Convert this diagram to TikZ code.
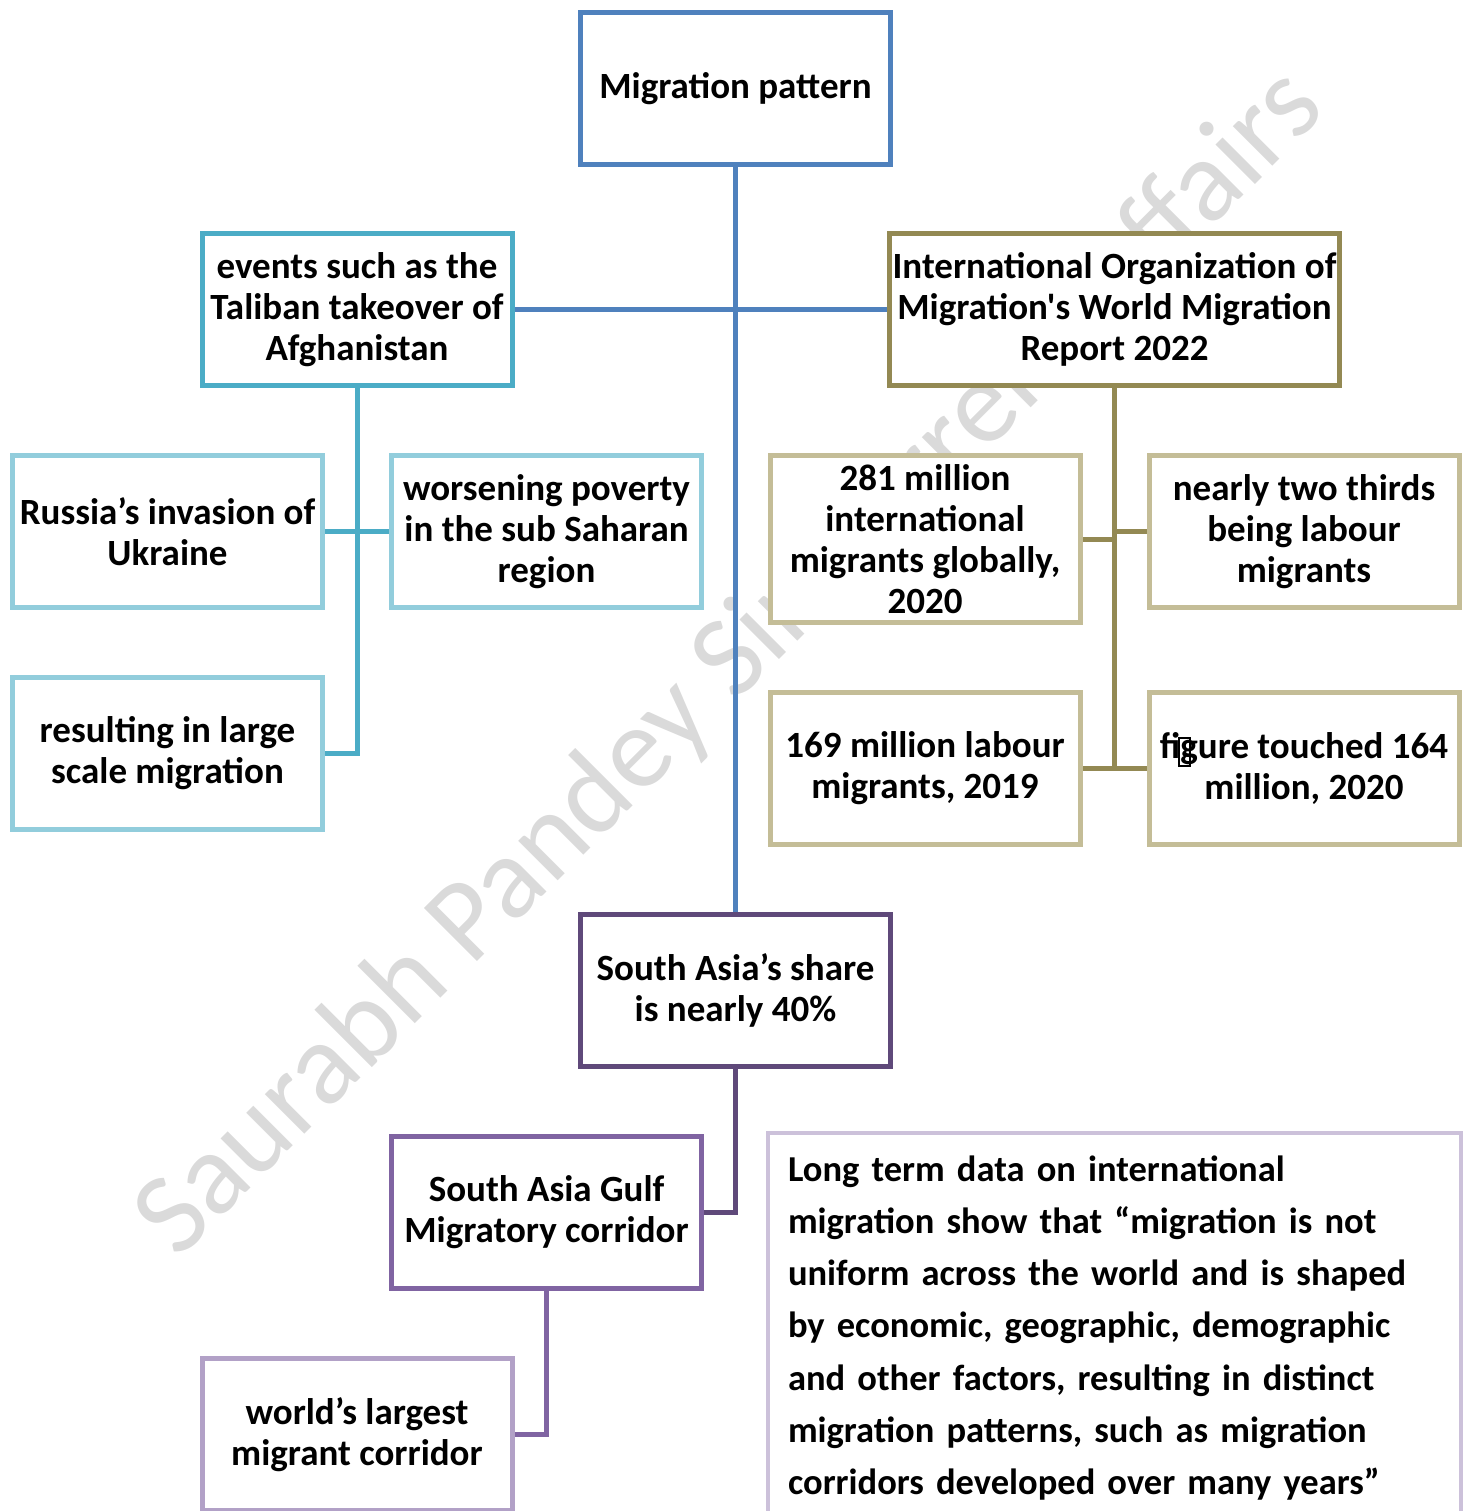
\documentclass[tikz,border=0pt]{standalone}
\usepackage{fontspec}
\setmainfont{Carlito}[Ligatures=TeXOff]
\definecolor{pattblue}{HTML}{4F81BD}
\definecolor{teal}{HTML}{4BACC6}
\definecolor{ltblue}{HTML}{92CDDC}
\definecolor{olive}{HTML}{938953}
\definecolor{tan}{HTML}{C4BD97}
\definecolor{dkpurple}{HTML}{5F497A}
\definecolor{purple}{HTML}{8064A2}
\definecolor{lilac}{HTML}{B2A1C7}
\definecolor{palelilac}{HTML}{CCC1DA}
\definecolor{wmgray}{HTML}{DADADA}
\newcommand{\missingglyph}{\rlap{\hspace{-2pt}\raisebox{-6pt}{\setlength\fboxsep{0pt}\setlength\fboxrule{2pt}\fbox{\rule{0pt}{26pt}\hspace{9pt}}}}}
\newcommand{\quotefont}{\bfseries\fontsize{36.5}{52.3}\selectfont\spaceskip=0.165em plus 0.05em\relax}
\begin{document}
\begin{tikzpicture}[x=1pt,y=-1pt,
  box/.style={draw,fill=white,line width=5pt,minimum width=310pt,minimum height=152pt,
    align=center,inner sep=2pt,font=\bfseries\fontsize{37}{41}\selectfont},
  link/.style={line width=5pt},
  wm/.style={text=wmgray,font=\fontsize{117}{117}\selectfont,rotate=45}]
  \useasboundingbox (0,0) rectangle (1470,1511);
  % watermark sits behind the chart
  \node[wm] (mark) at (731,664) {Saurabh Pandey Sir Current Affairs};

  \node[box,draw=pattblue] (pattern) at (735.5,89) {Migration pattern};
  \node[box,draw=teal] (events) at (357,309.5) {events such as the\\Taliban takeover of\\Afghanistan};
  \node[box,draw=olive,minimum width=450pt] (iom) at (1114.5,309.5) {International Organization of\\Migration's World Migration\\Report 2022};

  \node[box,draw=ltblue] (russia) at (167.5,531.5) {Russia’s invasion of\\Ukraine};
  \node[box,draw=ltblue] (poverty) at (546.5,531.5) {worsening poverty\\in the sub Saharan\\region};
  \node[box,draw=ltblue] (scale) at (167.5,753.5) {resulting in large\\scale migration};

  \node[box,draw=tan,minimum height=167pt] (total) at (925,539) {281 million\\international\\migrants globally,\\2020};
  \node[box,draw=tan] (thirds) at (1304,531.5) {nearly two thirds\\being labour\\migrants};
  \node[box,draw=tan] (labour) at (925,768.5) {169 million labour\\migrants, 2019};
  \node[box,draw=tan] (touched) at (1304,768.5) {fi\missingglyph gure touched 164\\million, 2020};

  \node[box,draw=dkpurple] (share) at (735.5,990.5) {South Asia’s share\\is nearly 40\%};
  \node[box,draw=purple] (gulf) at (546.5,1212.5) {South Asia Gulf\\Migratory corridor};
  \node[box,draw=lilac] (largest) at (357,1434.5) {world’s largest\\migrant corridor};

  \node[box,draw=palelilac,line width=4pt,anchor=north west,minimum width=693pt,minimum height=390pt,
    text width=653pt,align=left,inner xsep=20pt,inner ysep=0pt,font=\quotefont] (quote) at (766,1131)
    {Long term data on international\\
     migration show that “migration is not\\
     uniform across the world and is shaped\\
     by economic, geographic, demographic\\
     and other factors, resulting in distinct\\
     migration patterns, such as migration\\
     corridors developed over many years”};

  % connectors
  \draw[link,pattblue] (pattern.south) -- (share.north);
  \draw[link,pattblue] (events.east) -- (iom.west);
  \draw[link,teal] (events.south) |- (russia.east)
    (events.south) |- (poverty.west)
    (events.south) |- (scale.east);
  \draw[link,olive] (iom.south) |- (total.east)
    (iom.south) |- (thirds.west)
    (iom.south) |- (labour.east)
    (iom.south) |- (touched.west);
  \draw[link,dkpurple] (share.south) |- (gulf.east);
  \draw[link,purple] (gulf.south) |- (largest.east);
\end{tikzpicture}
\end{document}
